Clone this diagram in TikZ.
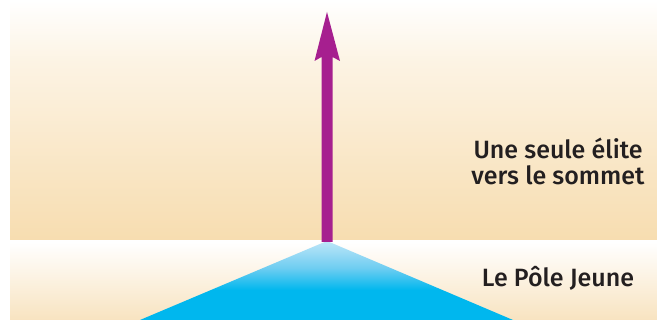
\documentclass[tikz,border=0pt]{standalone}
\usepackage{fontspec}
\setmainfont{Fira Sans}
\newfontfamily\labfont{Fira Sans Medium}
\definecolor{tanA}{HTML}{F7DDB0}
\definecolor{tanB}{HTML}{F8E3C0}
\definecolor{skyTop}{HTML}{BEE6F8}
\definecolor{skyMid}{HTML}{6FCDF1}
\definecolor{skyCyan}{HTML}{00B7EE}
\definecolor{arrowPurple}{HTML}{A61F8F}
\definecolor{ink}{HTML}{231F20}
\pgfdeclareverticalshading{panelone}{100bp}{color(0bp)=(tanA); color(25bp)=(tanA); color(62bp)=(tanA!35!white); color(75bp)=(white); color(100bp)=(white)}
\pgfdeclareverticalshading{paneltwo}{100bp}{color(0bp)=(tanB); color(25bp)=(tanB); color(75bp)=(white); color(100bp)=(white)}
\pgfdeclareverticalshading{skyshade}{100bp}{color(0bp)=(skyCyan); color(44bp)=(skyCyan); color(58bp)=(skyMid); color(75bp)=(skyTop); color(100bp)=(skyTop)}
\tikzset{
  label text/.style={font=\labfont\fontsize{25}{27}\selectfont, text=ink, inner sep=0pt, anchor=base}
}
\begin{document}
\begin{tikzpicture}[x=1pt,y=1pt]
\useasboundingbox (0,0) rectangle (657,320);
% panels
\shade[shading=panelone] (10,80) rectangle (657,320);
\shade[shading=paneltwo] (10,0) rectangle (657,78);
% pyramid
\coordinate (apex) at (327,79);
\coordinate (baseL) at (140,0);
\coordinate (baseR) at (513,0);
\shade[shading=skyshade] (baseL) -- (apex) -- (baseR) -- cycle;
% arrow
\coordinate (tip) at (327,308);
\fill[arrowPurple] (321.5,78) -- (321.5,263) -- (314.5,259) -- (tip) -- (340,259) -- (332.5,263) -- (332.5,78) -- cycle;
% labels
\node[label text] (l1) at (558,161) {Une seule élite};
\node[label text] (l2) at (558,135) {vers le sommet};
\node[label text] (l3) at (558,33) {Le Pôle Jeune};
\end{tikzpicture}
\end{document}
